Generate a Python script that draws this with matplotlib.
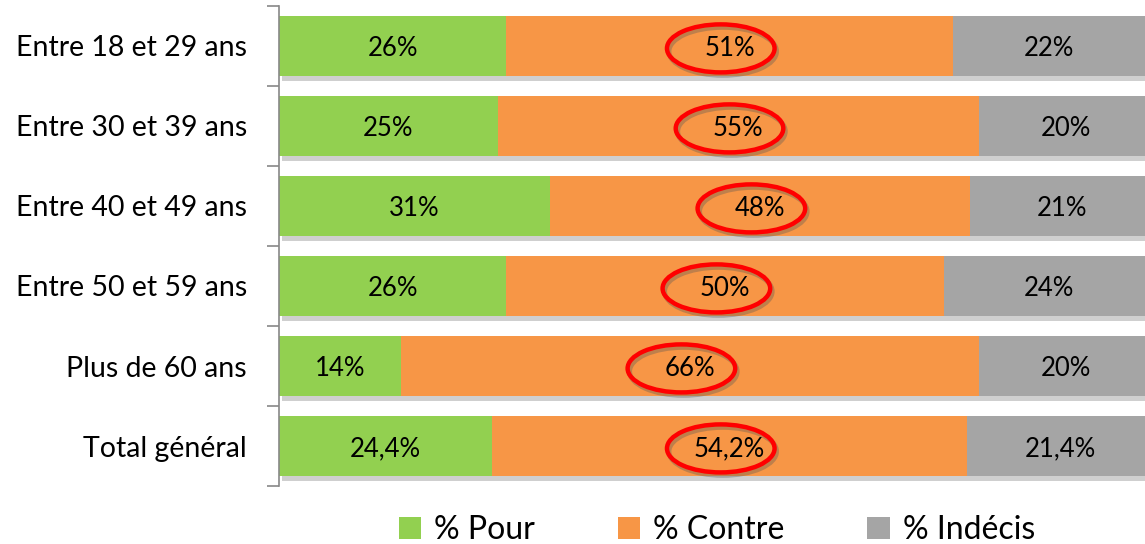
import matplotlib.pyplot as plt
import matplotlib.patheffects as pe
import matplotlib.transforms as mtransforms
from matplotlib.patches import Ellipse, Patch

plt.rcParams['font.family'] = ['Lato', 'DejaVu Sans']

# data
categories = ['Entre 18 et 29 ans', 'Entre 30 et 39 ans', 'Entre 40 et 49 ans',
              'Entre 50 et 59 ans', 'Plus de 60 ans', 'Total général']
pour = [26, 25, 31, 26, 14, 24.4]
contre = [51, 55, 48, 50, 66, 54.2]
indecis = [22, 20, 21, 24, 20, 21.4]
pour_lbl = ['26%', '25%', '31%', '26%', '14%', '24,4%']
contre_lbl = ['51%', '55%', '48%', '50%', '66%', '54,2%']
indecis_lbl = ['22%', '20%', '21%', '24%', '20%', '21,4%']

colors = ['#92D050', '#F79646', '#A5A5A5']
names = ['% Pour', '% Contre', '% Indécis']

fig = plt.figure(figsize=(11.45, 5.44), dpi=100)
ax = fig.add_axes([0.2437, 0.1066, 0.7563, 0.8824])

shadow = [pe.SimplePatchShadow(offset=(2, -4), shadow_rgbFace='#888888', alpha=0.4), pe.Normal()]
shadow_tr = mtransforms.offset_copy(ax.transData, fig=fig, x=2, y=-3, units='dots')

y = list(range(len(categories)))
left = [0] * len(categories)
for vals, labels, col in zip([pour, contre, indecis], [pour_lbl, contre_lbl, indecis_lbl], colors):
    bars = ax.barh(y, vals, left=left, height=0.74, color=col, edgecolor='none')
    for b in bars:
        b.set_path_effects(shadow)
    for i, (v, l) in enumerate(zip(vals, labels)):
        cx = left[i] + v / 2
        ax.text(cx, i + 0.03, l, ha='center', va='center', fontsize=18.5, color='black', zorder=5)
        if col == colors[1]:
            # hand-drawn style red circle with a soft shadow
            ax.add_patch(Ellipse((cx - 1, i + 0.03), 12.3, 0.6, fill=False, edgecolor='#555555',
                                 linewidth=3.5, alpha=0.35, zorder=6, transform=shadow_tr))
            ax.add_patch(Ellipse((cx - 1, i + 0.03), 12.3, 0.6, fill=False, edgecolor='#FF0000',
                                 linewidth=3.2, zorder=7))
    left = [a + b for a, b in zip(left, vals)]

ax.set_xlim(0, 99)
ax.set_ylim(5.5, -0.5)
ax.set_yticks(y)
ax.set_yticklabels(categories, fontsize=20.5)
ax.set_yticks([k - 0.5 for k in range(len(categories) + 1)], minor=True)
ax.tick_params(axis='y', which='major', length=0, pad=23)
ax.tick_params(axis='y', which='minor', length=9, color='#888888', width=1.2)
ax.set_xticks([])
for s in ['top', 'right', 'bottom']:
    ax.spines[s].set_visible(False)
ax.spines['left'].set_color('#888888')
ax.spines['left'].set_linewidth(1.2)

handles = [Patch(facecolor=c, edgecolor='none') for c in colors]
fig.legend(handles, names, loc='lower center', bbox_to_anchor=(0.626, -0.055), ncol=3,
           frameon=False, fontsize=23, handlelength=0.7, handleheight=0.7,
           handletextpad=0.4, columnspacing=2.6)

fig.savefig('out.png', dpi=100)
